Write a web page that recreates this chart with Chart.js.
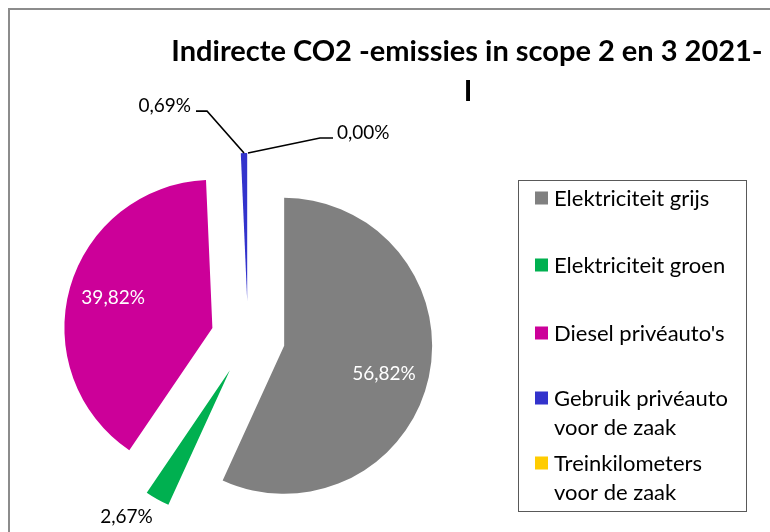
<!DOCTYPE html>
<html>
<head>
<meta charset="utf-8">
<script src="https://cdn.jsdelivr.net/npm/chart.js@4.4.1/dist/chart.umd.min.js"></script>
<style>
  html, body { margin: 0; padding: 0; background: #fff; overflow: hidden; }
  #wrap { position: relative; width: 770px; height: 532px; }
</style>
</head>
<body>
<div id="wrap"><canvas id="chart"></canvas></div>
<script>
// ── Data ─────────────────────────────────────────────────────────
const titleLines  = ["Indirecte CO2 -emissies in scope 2 en 3 2021-", "I"];
const categories  = ["Elektriciteit grijs", "Elektriciteit groen", "Diesel privéauto's",
                     "Gebruik privéauto voor de zaak", "Treinkilometers voor de zaak"];
const shares      = [56.82, 2.67, 39.82, 0.69, 0.00];
const sliceColors = ["#808080", "#00B050", "#CC0099", "#3333CC", "#FFCC00"];

// ── Styling / layout ─────────────────────────────────────────────
const FONT       = "Lato, 'Open Sans', sans-serif";
const PIE_RADIUS = 148;
const EXPLODE    = 37;     // every slice is pulled out by this many px
const legendRowY = [198, 265, 333, 398, 463];
const LEGEND_LINE = 29;

// how each data label sits relative to its slice
const labelPlacement = [
  { kind: "inside",  r: 0.69, dx: 0,   dy: 6, color: "#ffffff" },
  { kind: "outside", dist: 20, dx: -21, dy: 0, color: "#000000" },
  { kind: "inside",  r: 0.69, dx: -1,  dy: -2, color: "#ffffff" },
  { kind: "leader",  elbow: [-37, -42], end: [-48, -42], align: "right" },
  { kind: "leader",  elbow: [72, -15],  end: [85, -15],  align: "left" },
];

const pct = v => v.toFixed(2).replace(".", ",") + "%";

function sliceGeom(arc) {
  const mid = (arc.startAngle + arc.endAngle) / 2;
  const cos = Math.cos(mid), sin = Math.sin(mid);
  return {
    cos, sin,
    cx: arc.x + cos * EXPLODE,
    cy: arc.y + sin * EXPLODE,
    r: arc.outerRadius,
  };
}

function wrapText(ctx, text, maxWidth) {
  const words = text.split(" ");
  const lines = [];
  let cur = "";
  words.forEach(w => {
    const test = cur ? cur + " " + w : w;
    if (cur && ctx.measureText(test).width > maxWidth) {
      lines.push(cur);
      cur = w;
    } else {
      cur = test;
    }
  });
  if (cur) lines.push(cur);
  return lines;
}

// white page + the light grey chart frame (cropped on right/bottom)
const framePlugin = {
  id: "frame",
  beforeDraw(chart) {
    const ctx = chart.ctx;
    ctx.save();
    ctx.fillStyle = "#ffffff";
    ctx.fillRect(0, 0, chart.width, chart.height);
    ctx.strokeStyle = "#8c8c8c";
    ctx.lineWidth = 2;
    ctx.strokeRect(9, 9, 900, 700);
    ctx.restore();
  }
};

// draw each arc translated out along its mid angle (exploded pie)
const explodePlugin = {
  id: "explode",
  beforeDatasetsDraw(chart) {
    const ctx = chart.ctx;
    chart.getDatasetMeta(0).data.forEach(arc => {
      const g = sliceGeom(arc);
      ctx.save();
      ctx.translate(g.cos * EXPLODE, g.sin * EXPLODE);
      arc.draw(ctx);
      ctx.restore();
    });
    return false;
  }
};

const labelPlugin = {
  id: "sliceLabels",
  afterDraw(chart) {
    const ctx = chart.ctx;
    const values = chart.data.datasets[0].data;
    ctx.save();
    ctx.font = `19px ${FONT}`;
    chart.getDatasetMeta(0).data.forEach((arc, i) => {
      const p = labelPlacement[i];
      const g = sliceGeom(arc);
      const text = pct(values[i]);
      if (p.kind === "inside" || p.kind === "outside") {
        const r = p.kind === "inside" ? g.r * p.r : g.r + p.dist;
        ctx.fillStyle = p.color;
        ctx.textAlign = "center";
        ctx.textBaseline = "middle";
        ctx.fillText(text, g.cx + g.cos * r + p.dx, g.cy + g.sin * r + p.dy);
      } else {
        const ox = g.cx + g.cos * g.r, oy = g.cy + g.sin * g.r;
        const ex = ox + p.elbow[0], ey = oy + p.elbow[1];
        const tx = ox + p.end[0],   ty = oy + p.end[1];
        ctx.strokeStyle = "#000000";
        ctx.lineWidth = 1.7;
        ctx.beginPath();
        ctx.moveTo(ox, oy); ctx.lineTo(ex, ey); ctx.lineTo(tx, ty);
        ctx.stroke();
        ctx.fillStyle = "#000000";
        ctx.textBaseline = "alphabetic";
        ctx.textAlign = p.align;
        ctx.fillText(text, p.align === "right" ? tx - 5 : tx + 4, ty + 1);
      }
    });
    ctx.restore();
  }
};

const legendPlugin = {
  id: "boxedLegend",
  afterDraw(chart) {
    const ctx = chart.ctx;
    const box = { left: 518.5, top: 180.5, right: 746.5, bottom: 511.5 };
    const ds = chart.data.datasets[0];
    ctx.save();
    ctx.strokeStyle = "#595959";
    ctx.lineWidth = 1;
    ctx.strokeRect(box.left, box.top, box.right - box.left, box.bottom - box.top);
    ctx.font = `22px ${FONT}`;
    ctx.textAlign = "left";
    ctx.textBaseline = "middle";
    chart.data.labels.forEach((label, i) => {
      const y = legendRowY[i];
      ctx.fillStyle = ds.backgroundColor[i];
      ctx.fillRect(535, y - 6.5, 13, 13);
      ctx.fillStyle = "#000000";
      wrapText(ctx, label, box.right - 554 - 4).forEach((ln, k) =>
        ctx.fillText(ln, 554, y + 1 + k * LEGEND_LINE));
    });
    ctx.restore();
  }
};

const titlePlugin = {
  id: "twoLineTitle",
  afterDraw(chart) {
    const ctx = chart.ctx;
    ctx.save();
    ctx.font = `bold 29px ${FONT}`;
    ctx.fillStyle = "#000000";
    ctx.textAlign = "center";
    ctx.textBaseline = "alphabetic";
    ctx.fillText(titleLines[0], 467, 61);
    ctx.fillText(titleLines[1], 468, 101);
    ctx.restore();
  }
};

new Chart(document.getElementById("chart"), {
  type: "pie",
  data: {
    labels: categories,
    datasets: [{
      data: shares,
      backgroundColor: sliceColors,
      borderWidth: 0,
      radius: PIE_RADIUS,
    }]
  },
  plugins: [framePlugin, explodePlugin, labelPlugin, legendPlugin, titlePlugin],
  options: {
    responsive: true,
    maintainAspectRatio: false,
    animation: false,
    // puts the pie centre at (248, 338)
    layout: { padding: { left: 20, right: 294, top: 150, bottom: 6 } },
    plugins: {
      legend: { display: false },
      tooltip: { enabled: false },
      title: { display: false },
    },
  }
});
</script>
</body>
</html>
